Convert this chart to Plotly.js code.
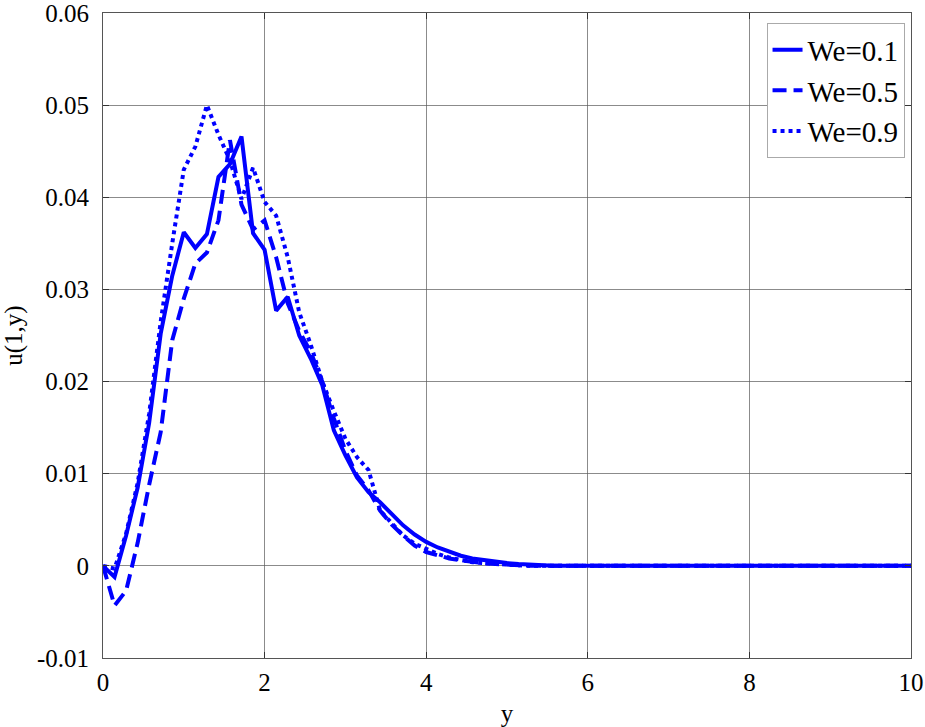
<!DOCTYPE html>
<html>
<head>
<meta charset="utf-8">
<script src="https://cdn.plot.ly/plotly-3.0.1.min.js"></script>
<style>html,body{margin:0;padding:0;background:#fff;}#chart{width:925px;height:727px;}</style>
</head>
<body>
<div id="chart"></div>
<script>
var yPos = [0,0.143,0.286,0.429,0.571,0.714,0.857,1.0,1.143,1.286,1.429,1.571,1.714,1.857,2.0,2.143,2.286,2.429,2.571,2.714,2.857,3.0,3.143,3.286,3.429,3.571,3.714,3.857,4.0,4.143,4.286,4.429,4.571,4.714,4.857,5.0,5.143,5.286,5.429,5.571,5.714,10];
var uWe01 = [0,-0.0012,0.0033,0.0085,0.0155,0.0252,0.0315,0.0362,0.0345,0.0360,0.0422,0.0436,0.0466,0.0361,0.0343,0.0277,0.0292,0.0250,0.0225,0.0196,0.0147,0.0120,0.0096,0.0080,0.0069,0.0057,0.0044,0.0034,0.0026,0.0020,0.0015,0.0011,0.0008,0.0006,0.0004,0.0003,0.0002,0.0001,0.00005,0,0,0];
var uWe05 = [0,-0.0043,-0.0027,0.0025,0.0088,0.0145,0.0245,0.0290,0.0328,0.0340,0.0375,0.0462,0.0392,0.0365,0.0375,0.0335,0.0285,0.0255,0.0232,0.0200,0.0160,0.0125,0.0098,0.0082,0.0060,0.0045,0.0033,0.0022,0.0015,0.0011,0.0008,0.0006,0.0004,0.0003,0.0002,0.0001,0.00005,0,0,0,0,0];
var uWe09 = [0,-0.0003,0.0035,0.0090,0.0165,0.0265,0.0350,0.0430,0.0455,0.0500,0.0468,0.0440,0.0398,0.0432,0.0395,0.0380,0.0335,0.0275,0.0240,0.0200,0.0168,0.0138,0.0118,0.0104,0.0060,0.0047,0.0033,0.0024,0.0018,0.0013,0.0009,0.0006,0.0004,0.0003,0.0002,0.0001,0.00005,0,0,0,0,0];
var seriesNames = ['We=0.1','We=0.5','We=0.9'];
var xTickVals = [0,2,4,6,8,10];
var xTickText = ['0','2','4','6','8','10'];
var yTickVals = [-0.01,0,0.01,0.02,0.03,0.04,0.05,0.06];
var yTickText = ['-0.01','0','0.01','0.02','0.03','0.04','0.05','0.06'];

var blue = '#0000ff';
var traces = [
  {x: yPos, y: uWe01, name: seriesNames[0], mode: 'lines', line: {color: blue, width: 4, dash: 'solid'}},
  {x: yPos, y: uWe05, name: seriesNames[1], mode: 'lines', line: {color: blue, width: 4, dash: '14px,7px'}},
  {x: yPos, y: uWe09, name: seriesNames[2], mode: 'lines', line: {color: blue, width: 4, dash: '4px,4px'}}
];
var fam = '"Liberation Serif", "Times New Roman", serif';
var font = {family: fam, size: 25, color: '#000'};
var axisCommon = {
  showline: true, linecolor: '#555', linewidth: 1, mirror: 'ticks',
  ticks: 'inside', ticklen: 6, tickcolor: '#333', tickwidth: 1,
  showgrid: true, gridcolor: 'rgba(90,90,90,0.7)', gridwidth: 1,
  zeroline: false, tickfont: font, ticklabeloverflow: 'allow'
};
var layout = {
  width: 925, height: 727,
  margin: {l: 103, r: 14, t: 13, b: 69},
  paper_bgcolor: '#fff', plot_bgcolor: '#fff',
  font: font,
  showlegend: true,
  legend: {x: 0.992, y: 0.984, xanchor: 'right', yanchor: 'top', bgcolor: '#fff', bordercolor: '#aaa', borderwidth: 1, font: {family: fam, size: 29, color: '#000'}, tracegroupgap: 0},
  xaxis: Object.assign({}, axisCommon, {range: [0, 10], tickvals: xTickVals, ticktext: xTickText, ticklabelstandoff: 2, title: {text: 'y', font: font, standoff: 10}}),
  yaxis: Object.assign({}, axisCommon, {range: [-0.01, 0.06000001], tickvals: yTickVals, ticktext: yTickText, ticklabelstandoff: 8, title: {text: 'u(1,y)', font: font, standoff: 10}})
};
Plotly.newPlot('chart', traces, layout, {displayModeBar: false, staticPlot: true});
</script>
</body>
</html>
